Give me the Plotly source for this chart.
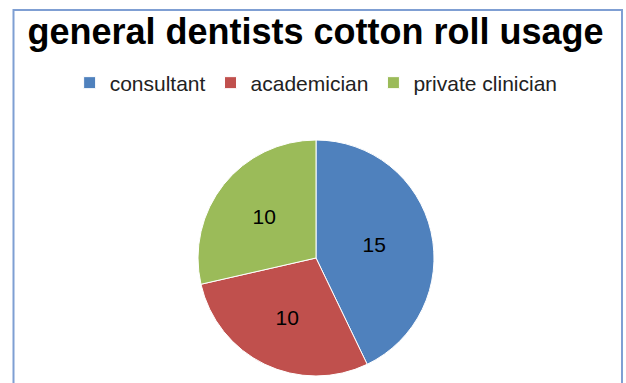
import plotly.graph_objects as go

categories = ["consultant", "academician", "private clinician"]
values = [15, 10, 10]
colors = ["#4f81bd", "#c0504d", "#9bbb59"]

W, H = 626, 383
cx, cy, r = 316, 258, 118

fig = go.Figure(go.Pie(
    labels=categories,
    values=values,
    sort=False,
    direction="clockwise",
    rotation=0,
    marker=dict(colors=colors, line=dict(color="white", width=1)),
    textinfo="value",
    textposition="inside",
    insidetextorientation="horizontal",
    textfont=dict(family="Liberation Sans", size=21, color="black"),
    domain=dict(x=[(cx - r) / W, (cx + r) / W], y=[(H - cy - r) / H, (H - cy + r) / H]),
    hoverinfo="label+value",
))

fig.update_layout(
    width=W, height=H,
    margin=dict(l=0, r=0, t=0, b=0),
    paper_bgcolor="white",
    plot_bgcolor="white",
    title=dict(text="<b>general dentists cotton roll usage</b>",
               font=dict(family="Liberation Sans", size=36, color="black"),
               x=0.504, xanchor="center", y=(H - 31) / H, yanchor="middle"),
    legend=dict(orientation="h", x=0.505, xanchor="center", y=(H - 83) / H, yanchor="middle",
                font=dict(family="Liberation Sans", size=21, color="#222222"),
                itemwidth=30, traceorder="normal"),
    shapes=[dict(type="rect", xref="paper", yref="paper",
                 x0=13.5 / W, x1=622 / W, y0=-0.05, y1=(H - 10) / H,
                 line=dict(color="#7f9fd3", width=2), fillcolor="rgba(0,0,0,0)")],
)

fig.write_html("out.html")
